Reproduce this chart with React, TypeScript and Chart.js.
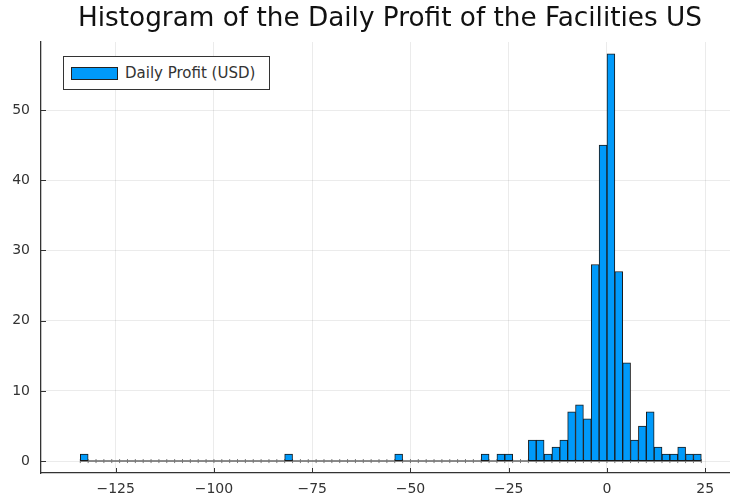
import React, { useEffect, useRef } from "react";
import { Chart, registerables } from "chart.js";

Chart.register(...registerables);

// ---- data ----
const titleText = "Histogram of the Daily Profit of the Facilities US";
const seriesLabel = "Daily Profit (USD)";
const binWidth = 2;
// left edges of non-empty bins
const binStarts = [-134, -82, -54, -32, -28, -26, -20, -18, -16, -14, -12, -10, -8, -6, -4, -2, 0, 2, 4, 6, 8, 10, 12, 14, 16, 18, 20, 22];
const binCounts = [1, 1, 1, 1, 1, 1, 3, 3, 1, 2, 3, 7, 8, 6, 28, 45, 58, 27, 14, 3, 5, 7, 2, 1, 1, 2, 1, 1];
const xTicks = [-125, -100, -75, -50, -25, 0, 25];
const yTicks = [0, 10, 20, 30, 40, 50];
const xRange = [-144, 31.3];
const yRange = [-1.7, 59.7];

const FONT = "'DejaVu Sans', sans-serif";
const BAR_COLOR = "#009AFA";

const fmt = (v: number) => (v < 0 ? "\u2212" + Math.abs(v) : String(v));

const innerTicks = {
  id: "innerTicks",
  afterDatasetsDraw(chart: any) {
    const { ctx, chartArea, scales } = chart;
    ctx.save();
    ctx.strokeStyle = "#333";
    ctx.lineWidth = 1;
    ctx.beginPath();
    scales.x.ticks.forEach((t: any) => {
      const px = Math.round(scales.x.getPixelForValue(t.value)) + 0.5;
      ctx.moveTo(px, chartArea.bottom);
      ctx.lineTo(px, chartArea.bottom - 5);
    });
    scales.y.ticks.forEach((t: any) => {
      const py = Math.round(scales.y.getPixelForValue(t.value)) + 0.5;
      ctx.moveTo(chartArea.left, py);
      ctx.lineTo(chartArea.left + 5, py);
    });
    ctx.stroke();
    ctx.restore();
  },
};

export default function App() {
  const ref = useRef<HTMLCanvasElement>(null);

  useEffect(() => {
    if (!ref.current) return;
    const bars = binStarts.map((s, i) => ({ x: s + binWidth / 2, y: binCounts[i] }));
    const first = binStarts[0];
    const last = binStarts[binStarts.length - 1] + binWidth;
    const edges: { x: number; y: number }[] = [];
    for (let e = first; e <= last; e += binWidth) edges.push({ x: e, y: 0 });

    const chart = new Chart(ref.current, {
      type: "bar",
      data: {
        datasets: [
          {
            type: "bar",
            label: seriesLabel,
            data: bars as any,
            backgroundColor: BAR_COLOR,
            borderColor: "#1a1a1a",
            borderWidth: 1,
            borderSkipped: false,
            barPercentage: 1,
            categoryPercentage: 1,
            order: 0,
          } as any,
          {
            type: "line",
            label: "baseline",
            data: edges as any,
            borderColor: "#666",
            borderWidth: 1.5,
            pointStyle: "line",
            pointRotation: 90,
            pointRadius: 2,
            pointBorderColor: "#777",
            pointBorderWidth: 1,
            pointBackgroundColor: "#777",
            order: 1,
          } as any,
        ],
      },
      options: {
        responsive: false,
        animation: false,
        devicePixelRatio: 1,
        layout: { autoPadding: false, padding: { left: 0, right: 0, top: 42, bottom: 0 } },
        plugins: {
          legend: { display: false },
          tooltip: { enabled: false },
          title: { display: false },
        },
        scales: {
          x: {
            type: "linear",
            min: xRange[0],
            max: xRange[1],
            offset: false,
            afterBuildTicks: (s: any) => {
              s.ticks = xTicks.map((v) => ({ value: v }));
            },
            afterFit: (s: any) => {
              s.height = 29;
              s.paddingLeft = 0;
              s.paddingRight = 0;
            },
            grid: { color: "rgba(0,0,0,0.08)", lineWidth: 1, drawTicks: false, offset: false },
            border: { color: "#333", width: 1.3 },
            ticks: {
              color: "#333",
              font: { family: FONT, size: 14 },
              padding: 8,
              maxRotation: 0,
              autoSkip: false,
              callback: (v: any) => fmt(Number(v)),
            },
          },
          y: {
            type: "linear",
            min: yRange[0],
            max: yRange[1],
            afterBuildTicks: (s: any) => {
              s.ticks = yTicks.map((v) => ({ value: v }));
            },
            afterFit: (s: any) => {
              s.width = 41;
              s.paddingTop = 0;
              s.paddingBottom = 0;
            },
            grid: { color: "rgba(0,0,0,0.08)", lineWidth: 1, drawTicks: false },
            border: { color: "#333", width: 1.3 },
            ticks: {
              color: "#333",
              font: { family: FONT, size: 14 },
              padding: 11,
              callback: (v: any) => fmt(Number(v)),
            },
          },
        },
      },
      plugins: [innerTicks],
    });
    return () => chart.destroy();
  }, []);

  return (
    <div style={{ position: "absolute", left: 0, top: 0, width: 730, height: 502, background: "#fff" }}>
      <canvas ref={ref} width={730} height={502} style={{ display: "block" }} />
      <div
        style={{
          position: "absolute",
          left: 0,
          top: 2,
          width: 780,
          textAlign: "center",
          fontFamily: FONT,
          fontSize: 26.3,
          lineHeight: "30px",
          color: "#111",
          whiteSpace: "nowrap",
        }}
      >
        {titleText}
      </div>
      <div
        style={{
          position: "absolute",
          left: 63,
          top: 56,
          width: 207,
          height: 34,
          boxSizing: "border-box",
          border: "1px solid #333",
          background: "#fff",
          display: "flex",
          alignItems: "center",
          fontFamily: FONT,
          fontSize: 15,
          color: "#333",
        }}
      >
        <span
          style={{
            display: "inline-block",
            marginLeft: 7,
            width: 47,
            height: 13,
            flex: "none",
            boxSizing: "border-box",
            background: BAR_COLOR,
            border: "1px solid #222",
          }}
        />
        <span style={{ marginLeft: 7, whiteSpace: "nowrap" }}>{seriesLabel}</span>
      </div>
    </div>
  );
}
